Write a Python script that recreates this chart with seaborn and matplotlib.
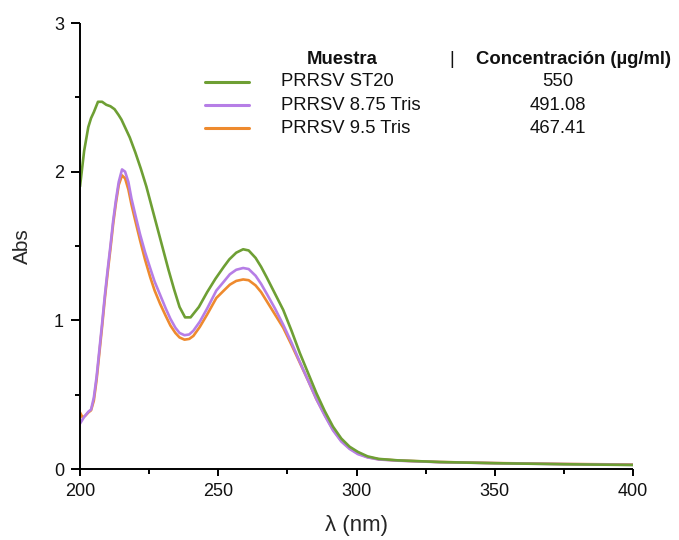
import numpy as np
import pandas as pd
import seaborn as sns
import matplotlib
matplotlib.use("Agg")
import matplotlib.pyplot as plt
from matplotlib.lines import Line2D
from matplotlib.ticker import MultipleLocator

# ---------------- data ----------------
wl_st20 = [200, 201.5, 203, 204, 205, 206.5, 208, 209.5, 211, 212.5, 214, 215, 216.5, 218,
           220, 222, 224, 226, 228, 230, 232, 234, 236, 238, 240, 243, 246, 249, 252, 254,
           256.5, 259, 261, 263.5, 265.5, 267.5, 270.5, 273.5, 276.5, 279.5, 282.5, 285.5,
           288.5, 291.5, 294.5, 297.5, 300.5, 304, 308, 315, 330, 350, 375, 400]
abs_st20 = [1.90, 2.14, 2.30, 2.36, 2.40, 2.47, 2.47, 2.45, 2.44, 2.42, 2.38, 2.35, 2.29, 2.23,
            2.13, 2.02, 1.90, 1.76, 1.62, 1.48, 1.34, 1.21, 1.09, 1.02, 1.02, 1.09, 1.19, 1.28, 1.36, 1.41,
            1.455, 1.478, 1.47, 1.42, 1.36, 1.29, 1.18, 1.07, 0.93, 0.78, 0.645, 0.51,
            0.39, 0.285, 0.205, 0.15, 0.115, 0.085, 0.068, 0.058, 0.047, 0.039, 0.032, 0.027]

wl_875 = [200, 201.5, 203, 204, 205, 206, 207, 208, 209, 210, 211, 212, 213, 214, 215.2, 216.3,
          217.5, 218.6, 220, 221.7, 223.5, 225.4, 227, 229, 231, 232.7, 234.5, 236, 237.8, 239.5,
          241, 243.3, 246, 249.3, 252, 254.2, 256.5, 259, 261, 263.5, 265.5, 267.5, 270.5, 273.5,
          276.5, 279.5, 282.5, 285.5, 288.5, 291.5, 294.5, 297.5, 300.5, 304, 308, 315, 330, 350,
          375, 400]
abs_875 = [0.305, 0.35, 0.385, 0.40, 0.48, 0.62, 0.80, 0.98, 1.17, 1.34, 1.50, 1.67, 1.81, 1.93,
           2.015, 2.00, 1.93, 1.82, 1.71, 1.58, 1.46, 1.35, 1.26, 1.17, 1.08, 1.01, 0.95, 0.915,
           0.90, 0.905, 0.93, 0.99, 1.08, 1.20, 1.26, 1.31, 1.34, 1.352, 1.345, 1.30, 1.245, 1.18,
           1.08, 0.97, 0.85, 0.72, 0.595, 0.47, 0.36, 0.26, 0.185, 0.135, 0.10, 0.078, 0.064,
           0.056, 0.046, 0.039, 0.033, 0.028]

wl_95 = [200, 201, 202, 203, 204, 205, 206, 207, 208, 209, 210, 211, 212, 213, 214, 215.2, 216.3,
         217.5, 218.6, 220, 221.7, 223.5, 225.4, 227, 229, 231, 232.7, 234.5, 236, 237.8, 239.5,
         241, 243.3, 246, 249.3, 252, 254.2, 256.5, 259, 261, 263.5, 265.5, 267.5, 270.5, 273.5,
         276.5, 279.5, 282.5, 285.5, 288.5, 291.5, 294.5, 297.5, 300.5, 304, 308, 315, 330, 350,
         375, 400]
abs_95 = [0.38, 0.345, 0.36, 0.38, 0.395, 0.46, 0.60, 0.78, 0.96, 1.15, 1.32, 1.48, 1.65, 1.79,
          1.91, 1.975, 1.955, 1.88, 1.78, 1.67, 1.54, 1.41, 1.29, 1.20, 1.11, 1.03, 0.965, 0.915,
          0.885, 0.87, 0.875, 0.895, 0.955, 1.04, 1.15, 1.20, 1.24, 1.265, 1.275, 1.27, 1.235,
          1.19, 1.13, 1.04, 0.95, 0.835, 0.715, 0.595, 0.47, 0.365, 0.265, 0.19, 0.14, 0.105,
          0.08, 0.066, 0.057, 0.047, 0.040, 0.034, 0.030]

samples = ["PRRSV ST20", "PRRSV 8.75 Tris", "PRRSV 9.5 Tris"]
concentrations = ["550", "491.08", "467.41"]
colors = ["#6E9F34", "#B67EE6", "#EE8A2E"]

x_ticks = [200, 250, 300, 350, 400]
y_ticks = [0, 1, 2, 3]

# ---------------- build long table ----------------
df = pd.concat([
    pd.DataFrame({"wl": wl_st20, "abs": abs_st20, "sample": samples[0]}),
    pd.DataFrame({"wl": wl_875, "abs": abs_875, "sample": samples[1]}),
    pd.DataFrame({"wl": wl_95, "abs": abs_95, "sample": samples[2]}),
], ignore_index=True)

sns.set_theme(style="ticks")
plt.rcParams["font.family"] = ["Liberation Sans", "DejaVu Sans"]

W, H = 679, 540
fig = plt.figure(figsize=(W / 100, H / 100), dpi=100)
ax = fig.add_axes([80 / W, 71 / H, (633 - 80) / W, (469 - 23) / H])

# draw in reverse so green is on top
order = samples[::-1]
pal = dict(zip(samples, colors))
sns.lineplot(data=df, x="wl", y="abs", hue="sample", hue_order=order, palette=pal,
             linewidth=1.9, legend=False, ax=ax, estimator=None, sort=False)

ax.set_xlim(200, 400)
ax.set_ylim(0, 3)
ax.set_xticks(x_ticks)
ax.set_yticks(y_ticks)
ax.xaxis.set_minor_locator(MultipleLocator(25))
ax.yaxis.set_minor_locator(MultipleLocator(0.5))
ax.tick_params(axis="both", which="major", width=1.4, labelsize=13,
               color="black", labelcolor="#111111")
ax.tick_params(axis="x", which="major", length=5, pad=5)
ax.tick_params(axis="y", which="major", length=6.5, pad=5)
ax.tick_params(axis="both", which="minor", length=3.5, width=1.4, color="black")
for s in ["top", "right"]:
    ax.spines[s].set_visible(False)
for s in ["left", "bottom"]:
    ax.spines[s].set_linewidth(1.4)
    ax.spines[s].set_color("black")
    ax.spines[s].set_capstyle("butt")

ax.set_xlabel("λ (nm)", fontsize=16, labelpad=11)
ax.set_ylabel("Abs", fontsize=15, labelpad=16)

# ---------------- custom table legend ----------------
def fx(px):
    return px / W

def fy(py):
    return 1 - py / H

FS = 13.3
fig.text(fx(342), fy(59.5), "Muestra", ha="center", va="center", fontsize=FS,
         fontweight="bold", color="#111111")
fig.text(fx(452), fy(59.5), "|", ha="center", va="center", fontsize=FS, color="#111111")
fig.text(fx(574), fy(59.5), "Concentración (µg/ml)", ha="center", va="center", fontsize=FS,
         fontweight="bold", color="#111111")

row_y = [81.7, 105, 128.3]
for name, conc, col, ry in zip(samples, concentrations, colors, row_y):
    fig.add_artist(Line2D([fx(205), fx(249)], [fy(ry), fy(ry)], color=col, linewidth=2.2,
                          transform=fig.transFigure))
    fig.text(fx(281), fy(ry), name, ha="left", va="center", fontsize=FS, color="#111111")
    fig.text(fx(558), fy(ry), conc, ha="center", va="center", fontsize=FS, color="#111111")

fig.savefig("out.png", dpi=100)
